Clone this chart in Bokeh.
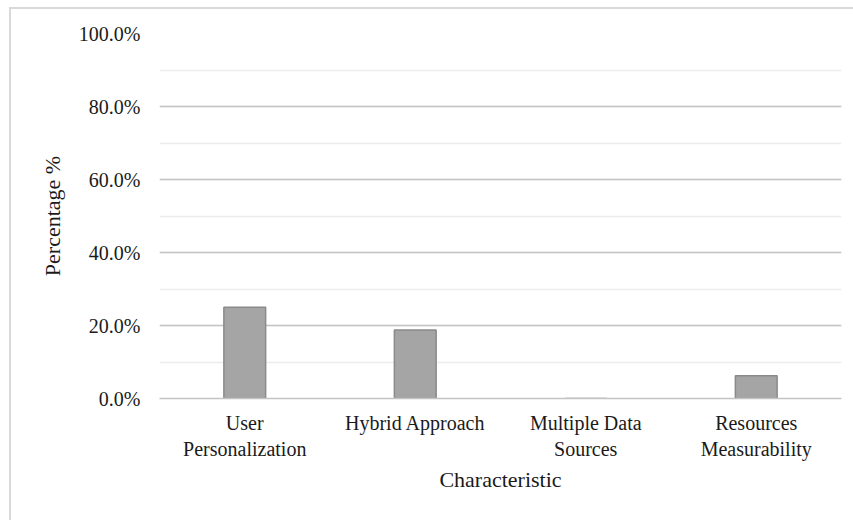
from bokeh.plotting import figure
from bokeh.models import FactorRange, Range1d, SingleIntervalTicker, NumeralTickFormatter, ColumnDataSource
from bokeh.embed import file_html
from bokeh.resources import INLINE

categories = ["User\nPersonalization", "Hybrid Approach", "Multiple Data\nSources", "Resources\nMeasurability"]
percentages = [0.25, 0.1875, 0.0, 0.0625]

FONT = "Liberation Serif"

src = ColumnDataSource(dict(cat=categories, val=percentages))

p = figure(
    x_range=FactorRange(*categories, range_padding=0),
    y_range=Range1d(0, 1.0),
    width=842, height=511,
    frame_width=682, frame_height=365,
    min_border_left=148, min_border_top=24, min_border_bottom=122, min_border_right=12,
    output_backend="svg", toolbar_location=None,
)
p.styles = {"border-left": "2px solid #d9d9d9", "border-top": "2px solid #d9d9d9",
            "margin-left": "9px", "margin-top": "7px"}

p.vbar(x="cat", top="val", width=0.245, source=src,
       fill_color="#a5a5a5", line_color="#8a8a8a", line_width=1.5)

p.outline_line_color = None
p.background_fill_color = "white"
p.border_fill_color = "white"

p.yaxis.ticker = SingleIntervalTicker(interval=0.2, num_minor_ticks=2)
p.yaxis.formatter = NumeralTickFormatter(format="0.0%")
p.ygrid.grid_line_color = "#c4c4c4"
p.ygrid.grid_line_width = 1.5
p.ygrid.minor_grid_line_color = "#ececec"
p.ygrid.minor_grid_line_width = 1.5
p.xgrid.grid_line_color = None

p.yaxis.axis_line_color = None
p.yaxis.major_tick_line_color = None
p.yaxis.minor_tick_line_color = None
p.yaxis.major_label_standoff = 13
p.yaxis.axis_label = "Percentage %"
p.yaxis.axis_label_standoff = 11

p.xaxis.axis_line_color = "#c4c4c4"
p.xaxis.axis_line_width = 1.5
p.xaxis.major_tick_line_color = None
p.xaxis.minor_tick_line_color = None
p.xaxis.major_label_standoff = 7
p.xaxis.axis_label = "Characteristic"
p.xaxis.axis_label_standoff = 4

for ax in (p.xaxis[0], p.yaxis[0]):
    ax.major_label_text_font = FONT
    ax.major_label_text_font_size = "20px"
    ax.major_label_text_color = "#1a1a1a"
    ax.axis_label_text_font = FONT
    ax.axis_label_text_font_size = "22px"
    ax.axis_label_text_font_style = "normal"
    ax.axis_label_text_color = "#1a1a1a"

open("out.html", "w").write(file_html(p, INLINE))
